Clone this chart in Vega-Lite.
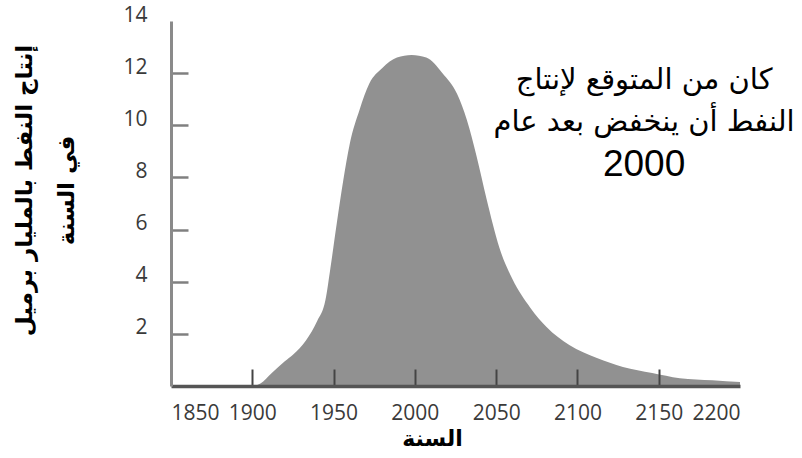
{
  "$schema": "https://vega.github.io/schema/vega-lite/v6.json",
  "width": 569,
  "height": 365,
  "autosize": "none",
  "padding": {"left": 171, "top": 21, "right": 62, "bottom": 72},
  "background": "white",
  "config": {"view": {"stroke": null}},
  "datasets": {
    "production": [
      {"year": 1900, "value": 0.0},
      {"year": 1905, "value": 0.1},
      {"year": 1912, "value": 0.5},
      {"year": 1920, "value": 0.95},
      {"year": 1925, "value": 1.2},
      {"year": 1933, "value": 1.75},
      {"year": 1940, "value": 2.5},
      {"year": 1945, "value": 3.3},
      {"year": 1948, "value": 4.5},
      {"year": 1952, "value": 6.25},
      {"year": 1956, "value": 7.9},
      {"year": 1960, "value": 9.3},
      {"year": 1966, "value": 10.6},
      {"year": 1972, "value": 11.6},
      {"year": 1980, "value": 12.2},
      {"year": 1989, "value": 12.6},
      {"year": 1998, "value": 12.7},
      {"year": 2007, "value": 12.6},
      {"year": 2017, "value": 12.0},
      {"year": 2026, "value": 11.2},
      {"year": 2032, "value": 10.2},
      {"year": 2038, "value": 8.8},
      {"year": 2044, "value": 7.2},
      {"year": 2052, "value": 5.3},
      {"year": 2060, "value": 4.1},
      {"year": 2071, "value": 3.0},
      {"year": 2081, "value": 2.26},
      {"year": 2095, "value": 1.57},
      {"year": 2112, "value": 1.07},
      {"year": 2128, "value": 0.73},
      {"year": 2146, "value": 0.5},
      {"year": 2163, "value": 0.3},
      {"year": 2183, "value": 0.22},
      {"year": 2200, "value": 0.15}
    ],
    "note": [
      {"year": 2141, "value": 11.74, "kind": "line", "label": "كان من المتوقع لإنتاج"},
      {"year": 2141, "value": 10.13, "kind": "line", "label": "النفط أن ينخفض بعد عام"},
      {"year": 2141, "value": 8.48, "kind": "year", "label": "2000"}
    ]
  },
  "layer": [
    {
      "data": {"name": "production"},
      "mark": {"type": "area", "color": "#919191", "interpolate": "monotone"},
      "encoding": {
        "x": {
          "field": "year",
          "type": "quantitative",
          "scale": {"domain": [1850, 2200], "nice": false, "zero": false},
          "axis": {
            "zindex": 1,
            "values": [1850, 1900, 1950, 2000, 2050, 2100, 2150, 2200],
            "format": "d",
            "grid": false,
            "domainColor": "#555555",
            "domainWidth": 3.5,
            "tickColor": {"condition": {"test": "datum.value == 2200 || datum.value == 1850", "value": "transparent"}, "value": "#444444"},
            "tickWidth": 2,
            "tickSize": -17,
            "labelFont": "Open Sans",
            "labelFontSize": 21,
            "labelColor": "#3a3a3a",
            "labelPadding": 33,
            "title": "السنة",
            "titleFont": "DejaVu Sans",
            "titleFontSize": 22,
            "titleFontWeight": "bold",
            "titleColor": "#000000",
            "titleX": 261,
            "titleY": 52,
            "titleBaseline": "middle"
          }
        },
        "y": {
          "field": "value",
          "type": "quantitative",
          "scale": {"domain": [0, 14], "nice": false},
          "axis": {
            "zindex": 1,
            "values": [2, 4, 6, 8, 10, 12, 14],
            "grid": false,
            "domainColor": "#8a8a8a",
            "domainWidth": 3,
            "ticks": true,
            "tickColor": "#808080",
            "tickOpacity": {"condition": {"test": "datum.value >= 14", "value": 0}, "value": 1},
            "tickWidth": 2.5,
            "tickSize": -17,
            "labelFont": "Open Sans",
            "labelFontSize": 21,
            "labelColor": "#3a3a3a",
            "labelPadding": 41,
            "labelOffset": -6,
            "title": ["إنتاج النفط بالمليار برميل", "في السنة"],
            "titleFont": "DejaVu Sans",
            "titleFontSize": 23,
            "titleFontWeight": "bold",
            "titleColor": "#000000",
            "titleLineHeight": 42,
            "titleAngle": 270,
            "titleX": -147,
            "titleY": 169,
            "titleAlign": "center",
            "titleBaseline": "middle"
          }
        }
      }
    },
    {
      "data": {"name": "note"},
      "transform": [{"filter": "datum.kind == 'line'"}],
      "mark": {"type": "text", "font": "DejaVu Sans", "fontSize": 29, "color": "#000000", "align": "center", "baseline": "middle"},
      "encoding": {
        "x": {"field": "year", "type": "quantitative"},
        "y": {"field": "value", "type": "quantitative"},
        "text": {"field": "label"}
      }
    },
    {
      "data": {"name": "note"},
      "transform": [{"filter": "datum.kind == 'year'"}],
      "mark": {"type": "text", "font": "Liberation Sans", "fontSize": 37, "color": "#000000", "align": "center", "baseline": "middle"},
      "encoding": {
        "x": {"field": "year", "type": "quantitative"},
        "y": {"field": "value", "type": "quantitative"},
        "text": {"field": "label"}
      }
    }
  ]
}
